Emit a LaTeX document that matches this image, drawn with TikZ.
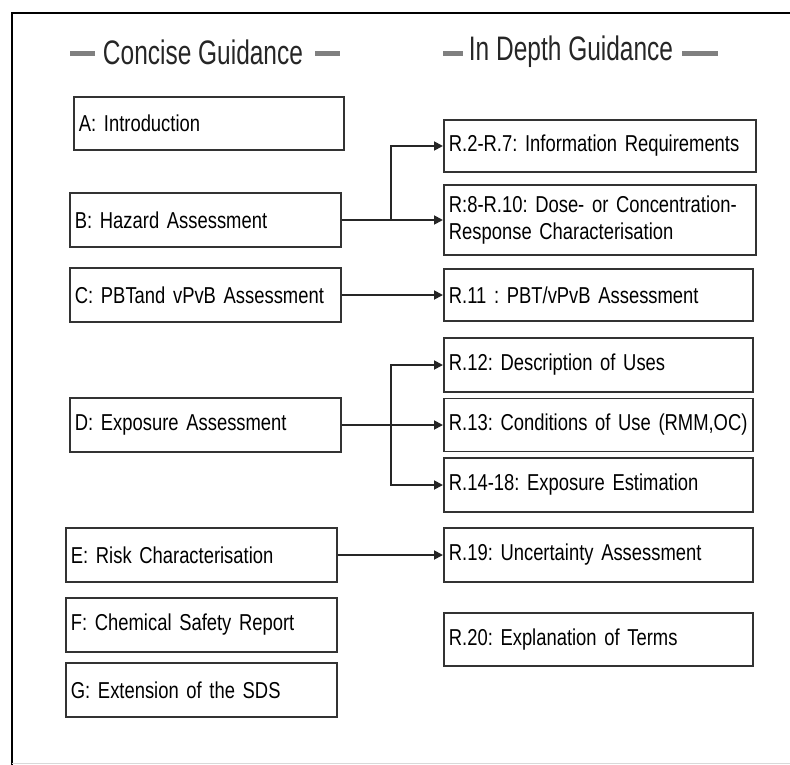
\documentclass[tikz,border=0pt]{standalone}
\usepackage{fontspec}
\setmainfont{Liberation Sans}[FakeStretch=0.80]
\newfontfamily\hfont{Liberation Sans}[FakeStretch=0.72]
\usetikzlibrary{arrows.meta}
\frenchspacing
\begin{document}
\begin{tikzpicture}[x=1pt,y=-1pt,
  box/.style={draw=black!80, line width=1.8pt, anchor=west, inner xsep=5pt, inner ysep=2pt,
    align=left, font=\fontsize{23}{27.5}\selectfont, text=black},
  conn/.style={draw=black!85, line width=1.8pt},
  arr/.style={conn, -{Triangle[length=9pt,width=9pt]}},
  head/.style={font=\hfont\fontsize{34}{36}\selectfont, text=black!85, inner sep=0pt},
  dashbar/.style={draw=black!50, line width=5pt}]
\useasboundingbox (0,0) rectangle (790,765);
% frame
\draw[black, line width=1.5pt] (790,13) -- (12,13) -- (12,765);
\draw[black!15, line width=1pt] (12,763) -- (790,763);
% headings
\node[head] (hc) at (203,52) {Concise Guidance};
\draw[dashbar] (70,54) -- (95,54);
\draw[dashbar] (315,54) -- (340,54);
\node[head] (hd) at (571,52) {In Depth Guidance};
\draw[dashbar] (443,54) -- (463,54);
\draw[dashbar] (682,54) -- (718,54);
% left boxes
\node[box, minimum width=270pt, minimum height=53pt, text width=260pt] (A) at (73,123.5) {A: Introduction};
\node[box, minimum width=271pt, minimum height=54pt, text width=261pt] (B) at (69,220) {B: Hazard Assessment};
\node[box, minimum width=271pt, minimum height=54pt, text width=261pt] (C) at (69,295) {C: PBTand vPvB Assessment};
\node[box, minimum width=271pt, minimum height=54pt, text width=261pt] (D) at (69,425) {D: Exposure Assessment};
\node[box, minimum width=271pt, minimum height=54pt, text width=261pt] (E) at (65,555) {E: Risk Characterisation};
\node[box, minimum width=271pt, minimum height=54pt, text width=261pt] (F) at (65,625) {F: Chemical Safety Report};
\node[box, minimum width=271pt, minimum height=54pt, text width=261pt] (G) at (65,690) {G: Extension of the SDS};
% right boxes
\node[box, minimum width=312pt, minimum height=52pt, text width=302pt] (R2) at (443,146) {R.2-R.7: Information Requirements};
\node[box, minimum width=312pt, minimum height=70pt, text width=302pt] (R8) at (443,220) {R:8-R.10: Dose- or Concentration-\\Response Characterisation};
\node[box, minimum width=309pt, minimum height=52pt, text width=299pt] (R11) at (443,295) {R.11 : PBT/vPvB Assessment};
\node[box, minimum width=309pt, minimum height=54pt, text width=299pt] (R12) at (443,365) {R.12: Description of Uses};
\node[box, minimum width=309pt, minimum height=53pt, text width=299pt] (R13) at (443,425) {R.13: Conditions of Use (RMM,OC)};
\node[box, minimum width=309pt, minimum height=54pt, text width=299pt] (R14) at (443,485) {R.14-18: Exposure Estimation};
\node[box, minimum width=309pt, minimum height=54pt, text width=299pt] (R19) at (443,555) {R.19: Uncertainty Assessment};
\node[box, minimum width=309pt, minimum height=53pt, text width=299pt] (R20) at (443,639.5) {R.20: Explanation of Terms};
% connectors
\coordinate (jB) at (391,220);
\coordinate (jD) at (391,425);
\draw[conn, line width=2.8pt] (B.east) -- (jB);
\draw[arr] (jB) |- (R2.west);
\draw[arr] (jB) -- (R8.west);
\draw[arr] (C.east) -- (R11.west);
\draw[conn, line width=2.8pt] (D.east) -- (jD);
\draw[arr] (jD) |- (R12.west);
\draw[arr] (jD) -- (R13.west);
\draw[arr] (jD) |- (R14.west);
\draw[arr] (E.east) -- (R19.west);
\end{tikzpicture}
\end{document}
